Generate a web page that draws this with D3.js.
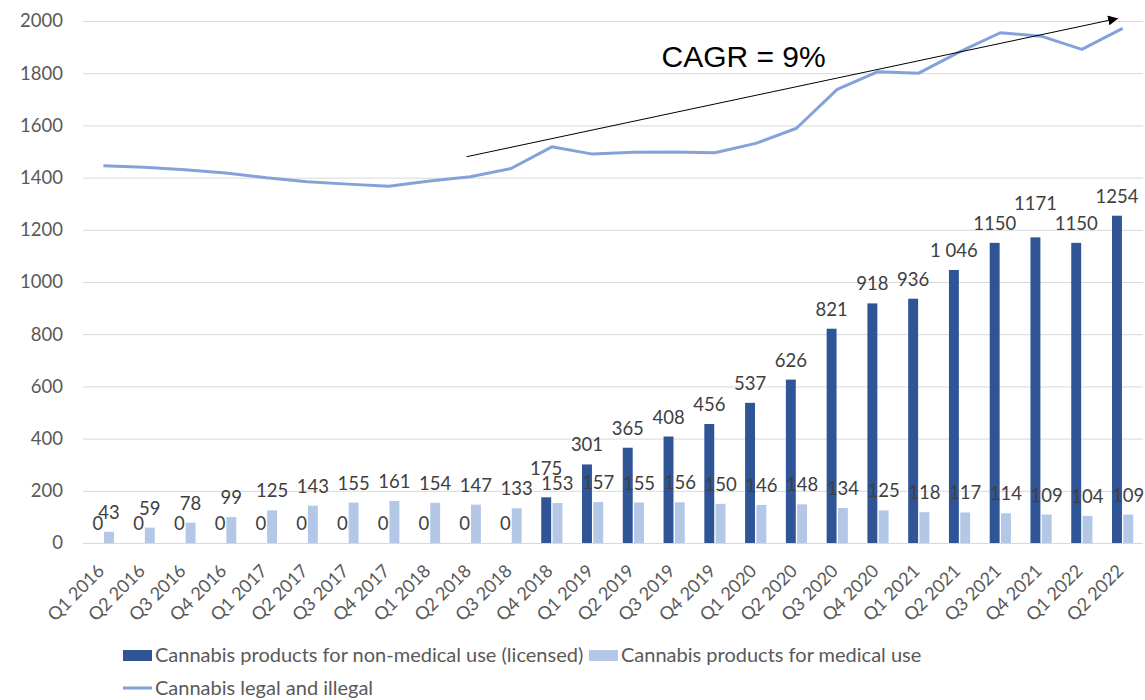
<!DOCTYPE html>
<html>
<head>
<meta charset="utf-8">
<script src="https://cdn.jsdelivr.net/npm/d3@7"></script>
<style>
  body { margin: 0; background: #fff; }
  text { font-family: Lato, "Open Sans", sans-serif; }
</style>
</head>
<body>
<div id="chart"></div>
<script>
// quarters
const quarters = [
  "Q1 2016", "Q2 2016", "Q3 2016", "Q4 2016",
  "Q1 2017", "Q2 2017", "Q3 2017", "Q4 2017",
  "Q1 2018", "Q2 2018", "Q3 2018", "Q4 2018",
  "Q1 2019", "Q2 2019", "Q3 2019", "Q4 2019",
  "Q1 2020", "Q2 2020", "Q3 2020", "Q4 2020",
  "Q1 2021", "Q2 2021", "Q3 2021", "Q4 2021",
  "Q1 2022", "Q2 2022"
];

// non-medical (licensed)
const nonMedical = [0, 0, 0, 0, 0, 0, 0, 0, 0, 0, 0, 175, 301, 365, 408, 456,
  537, 626, 821, 918, 936, 1046, 1150, 1171, 1150, 1254];
const nonMedicalLabels = ["0", "0", "0", "0", "0", "0", "0", "0", "0", "0", "0",
  "175", "301", "365", "408", "456", "537", "626", "821", "918", "936",
  "1 046", "1150", "1171", "1150", "1254"];

// medical
const medical = [43, 59, 78, 99, 125, 143, 155, 161, 154, 147, 133, 153, 157,
  155, 156, 150, 146, 148, 134, 125, 118, 117, 114, 109, 104, 109];

// legal and illegal
const total = [1445, 1440, 1430, 1418, 1399, 1384, 1375, 1367, 1387, 1403, 1435,
  1518, 1490, 1497, 1498, 1495, 1531, 1589, 1738, 1806, 1800, 1882, 1955,
  1942, 1891, 1972];

const yTicks = [0, 200, 400, 600, 800, 1000, 1200, 1400, 1600, 1800, 2000];

const seriesNames = [
  "Cannabis products for non-medical use (licensed)",
  "Cannabis products for medical use",
  "Cannabis legal and illegal"
];

// CAGR arrow, in (quarter index, value)
const cagrStart = [9.41, 1480];
const cagrEnd = [25.39, 2010];
const cagrText = "CAGR = 9%";

const colors = { dark: "#2f5597", light: "#b4c7e7", line: "#84a2da" };

const width = 1145, height = 700;
const margin = { top: 21, right: 2, bottom: 157, left: 83 };

const svg = d3.select("#chart").append("svg")
  .attr("width", width)
  .attr("height", height);

const x = d3.scaleBand()
  .domain(quarters)
  .range([margin.left, width - margin.right])
  .paddingInner(0.48)
  .paddingOuter(0.24);

const xSub = d3.scaleBand()
  .domain([0, 1])
  .range([0, x.bandwidth()])
  .paddingInner(0.12);

const y = d3.scaleLinear()
  .domain([0, 2000])
  .range([height - margin.bottom, margin.top]);

// index scale for the annotation
const xIdx = d3.scaleLinear()
  .domain([0, quarters.length])
  .range([margin.left, width - margin.right]);

// grid + y labels
const yAxis = svg.append("g")
  .attr("transform", "translate(" + margin.left + ",0)")
  .call(d3.axisLeft(y).tickValues(yTicks).tickFormat(d3.format("d"))
    .tickSize(-(width - margin.left - margin.right)).tickPadding(20))
  .call(g => g.select(".domain").remove());
yAxis.selectAll(".tick line").attr("stroke", "#d9d9d9").attr("stroke-width", 1);
yAxis.selectAll(".tick text")
  .attr("fill", "#595959")
  .style("font-size", "18.5px");

// x labels
const xAxis = svg.append("g")
  .attr("transform", "translate(0," + (height - margin.bottom) + ")")
  .call(d3.axisBottom(x).tickSize(0).tickPadding(0))
  .call(g => g.select(".domain").remove());
xAxis.selectAll(".tick text")
  .attr("fill", "#595959")
  .style("font-size", "18px")
  .attr("text-anchor", "end")
  .attr("dy", null)
  .attr("y", null)
  .attr("transform", "translate(2,29) rotate(-45)");

// bars
const groups = svg.append("g").selectAll("g")
  .data(quarters)
  .join("g")
  .attr("transform", d => "translate(" + x(d) + ",0)");

groups.append("rect")
  .attr("x", xSub(0))
  .attr("width", xSub.bandwidth())
  .attr("y", (d, i) => y(nonMedical[i]))
  .attr("height", (d, i) => y(0) - y(nonMedical[i]))
  .attr("fill", colors.dark);

groups.append("rect")
  .attr("x", xSub(1))
  .attr("width", xSub.bandwidth())
  .attr("y", (d, i) => y(medical[i]))
  .attr("height", (d, i) => y(0) - y(medical[i]))
  .attr("fill", colors.light);

// line
const line = d3.line()
  .x((d, i) => x(quarters[i]) + x.bandwidth() / 2)
  .y(d => y(d));

svg.append("path")
  .datum(total)
  .attr("d", line)
  .attr("fill", "none")
  .attr("stroke", colors.line)
  .attr("stroke-width", 3)
  .attr("stroke-linejoin", "round");

// data labels (Excel moved two of them up to avoid overlap)
const nudge = { 11: 9, 23: 14 };
groups.append("text")
  .attr("x", xSub(0) + xSub.bandwidth() / 2)
  .attr("y", (d, i) => y(nonMedical[i]) - 13 - (nudge[i] || 0))
  .attr("text-anchor", "middle")
  .attr("fill", "#404040")
  .style("font-size", "18.5px")
  .text((d, i) => nonMedicalLabels[i]);

groups.append("text")
  .attr("x", xSub(1) + xSub.bandwidth() / 2)
  .attr("y", (d, i) => y(medical[i]) - 13)
  .attr("text-anchor", "middle")
  .attr("fill", "#404040")
  .style("font-size", "18.5px")
  .text((d, i) => medical[i]);

// CAGR arrow
svg.append("defs").append("marker")
  .attr("id", "arrow")
  .attr("viewBox", "0 0 10 10")
  .attr("refX", 10)
  .attr("refY", 5)
  .attr("markerWidth", 10)
  .attr("markerHeight", 10)
  .attr("markerUnits", "userSpaceOnUse")
  .attr("orient", "auto")
  .append("path")
  .attr("d", "M0,0L10,5L0,10Z")
  .attr("fill", "#000");

svg.append("line")
  .attr("x1", xIdx(cagrStart[0]))
  .attr("y1", y(cagrStart[1]))
  .attr("x2", xIdx(cagrEnd[0]))
  .attr("y2", y(cagrEnd[1]))
  .attr("stroke", "#000")
  .attr("stroke-width", 1)
  .attr("marker-end", "url(#arrow)");

svg.append("text")
  .attr("x", xIdx(14.19))
  .attr("y", y(1824))
  .attr("fill", "#000")
  .style("font-family", "'Liberation Sans', Arial, sans-serif")
  .style("font-size", "30px")
  .text(cagrText);

// legend
const legend = svg.append("g").style("font-size", "20px");

legend.append("rect").attr("x", 123).attr("y", 650).attr("width", 29).attr("height", 11).attr("fill", colors.dark);
legend.append("text").attr("x", 155).attr("y", 662).attr("fill", "#595959").text(seriesNames[0]);

legend.append("rect").attr("x", 589).attr("y", 650).attr("width", 29).attr("height", 11).attr("fill", colors.light);
legend.append("text").attr("x", 621).attr("y", 662).attr("fill", "#595959").text(seriesNames[1]);

legend.append("line").attr("x1", 123).attr("x2", 152).attr("y1", 688).attr("y2", 688)
  .attr("stroke", colors.line).attr("stroke-width", 3);
legend.append("text").attr("x", 155).attr("y", 695).attr("fill", "#595959").text(seriesNames[2]);
</script>
</body>
</html>
